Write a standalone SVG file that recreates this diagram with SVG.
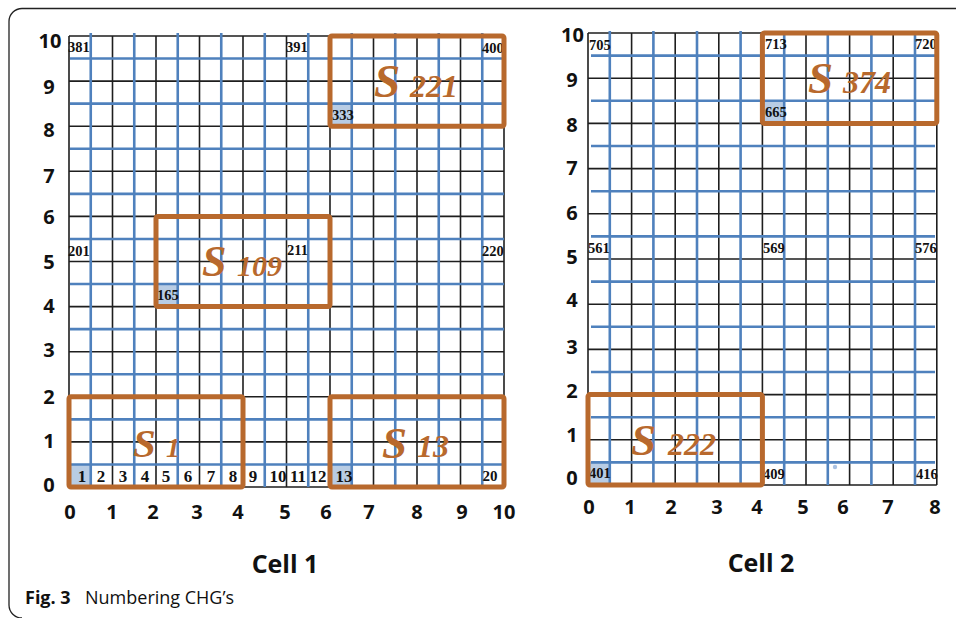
<svg xmlns="http://www.w3.org/2000/svg" width="956" height="618" viewBox="0 0 956 618">
<style>
.bk{stroke:#1e1e1e;stroke-width:1.6;fill:none}
.bl{stroke:#4f81bd;stroke-width:2.6;fill:none}
.hl{fill:#b8cce4}
.box{fill:none;stroke:#b8692d;stroke-width:5}
.num{font-family:"Liberation Serif",serif;font-weight:bold;fill:#111}
.n3{font-size:14.5px}
.n0{font-size:17px;text-anchor:middle}
.ax{font-family:"Open Sans","Liberation Sans",sans-serif;font-weight:bold;font-size:20px;fill:#111;text-anchor:middle}
.sb{font-family:"Liberation Serif",serif;font-weight:bold;font-style:italic;fill:#b8692d}
.cap{font-family:"Open Sans","Liberation Sans",sans-serif;fill:#111}
</style>
<rect width="956" height="618" fill="#fff"/>
<path d="M956,8.5 H22 A13,13 0 0 0 9,21.5 V605 A13,13 0 0 0 22,618" fill="none" stroke="#222" stroke-width="1.3"/>

<g id="cell1">
<rect class="hl" x="69" y="464.45" width="21.75" height="22.55"/>
<rect class="hl" x="330" y="464.45" width="21.75" height="22.55"/>
<rect class="hl" x="156" y="284.05" width="21.75" height="22.55"/>
<rect class="hl" x="330" y="103.65" width="21.75" height="22.55"/>
<path class="bk" d="M69,36V487M112.5,36V487M156,36V487M199.5,36V487M243,36V487M286.5,36V487M330,36V487M373.5,36V487M417,36V487M460.5,36V487M504,36V487
M69,36H504M69,81.1H504M69,126.2H504M69,171.3H504M69,216.4H504M69,261.5H504M69,306.6H504M69,351.7H504M69,396.8H504M69,441.9H504M69,487H504"/>
<path class="bl" d="M90.75,33V487M134.25,33V487M177.75,33V487M221.25,33V487M264.75,33V487M308.25,33V487M351.75,33V487M395.25,33V487M438.75,33V487M482.25,33V487
M70,58.55H504M70,103.65H504M70,148.75H504M70,193.85H504M70,238.95H504M70,284.05H504M70,329.15H504M70,374.25H504M70,419.35H504M70,464.45H504"/>
<g class="num n3">
<text x="68" y="52">381</text>
<text x="286" y="52">391</text>
<text x="482" y="53">400</text>
<text x="332" y="120">333</text>
<text x="68" y="256">201</text>
<text x="287" y="255">211</text>
<text x="482" y="256">220</text>
<text x="157" y="300">165</text>
</g>
<g class="num n0">
<text x="82" y="482">1</text>
<text x="101" y="482">2</text>
<text x="123" y="482">3</text>
<text x="145" y="482">4</text>
<text x="166" y="482">5</text>
<text x="188" y="482">6</text>
<text x="211" y="482">7</text>
<text x="233" y="482">8</text>
<text x="253" y="482">9</text>
<text x="278" y="482">10</text>
<text x="298" y="482">11</text>
<text x="318" y="482">12</text>
<text x="344" y="482">13</text>
<text x="490" y="481" style="font-size:15px">20</text>
</g>
<g class="ax">
<text x="50" y="48">10</text>
<text x="49" y="94">9</text>
<text x="49" y="137">8</text>
<text x="49" y="183">7</text>
<text x="49" y="224">6</text>
<text x="49" y="269">5</text>
<text x="49" y="313">4</text>
<text x="49" y="357">3</text>
<text x="49" y="404">2</text>
<text x="49" y="448">1</text>
<text x="49" y="492">0</text>
<text x="70" y="519">0</text>
<text x="112" y="519">1</text>
<text x="153" y="519">2</text>
<text x="197" y="519">3</text>
<text x="238" y="519">4</text>
<text x="285" y="519">5</text>
<text x="326" y="519">6</text>
<text x="369" y="519">7</text>
<text x="417" y="519">8</text>
<text x="462" y="519">9</text>
<text x="504" y="519">10</text>
</g>
<text class="ax" x="285" y="573" style="font-size:25px">Cell 1</text>
</g>

<g id="cell2">
<rect class="hl" x="588" y="462.4" width="21.8" height="22.6"/>
<rect class="hl" x="762.4" y="100.8" width="21.8" height="22.6"/>
<path class="bk" d="M588,33V485M631.6,33V485M675.2,33V485M718.8,33V485M762.4,33V485M806,33V485M849.6,33V485M893.2,33V485M936.8,33V485
M588,33H936.8M588,78.2H936.8M588,123.4H936.8M588,168.6H936.8M588,213.8H936.8M588,259H936.8M588,304.2H936.8M588,349.4H936.8M588,394.6H936.8M588,439.8H936.8M588,485H936.8"/>
<path class="bl" d="M609.8,31V485M653.4,31V485M697,31V485M740.6,31V485M784.2,31V485M827.8,31V485M871.4,31V485M915,31V485
M591,55.6H935M591,100.8H935M591,146H935M591,191.2H935M591,236.4H935M591,281.6H935M591,326.8H935M591,372H935M591,417.2H935M591,462.4H935"/>
<circle cx="835" cy="467" r="2.2" fill="#a9c1e2"/>
<g class="num n3">
<text x="589" y="50">705</text>
<text x="765" y="49">713</text>
<text x="915" y="49">720</text>
<text x="765" y="117">665</text>
<text x="588" y="253">561</text>
<text x="763" y="253">569</text>
<text x="915" y="253">576</text>
<text x="589" y="478">401</text>
<text x="763" y="479">409</text>
<text x="916" y="479">416</text>
</g>
<g class="ax">
<text x="572.5" y="42">10</text>
<text x="572" y="87">9</text>
<text x="572" y="132">8</text>
<text x="572" y="175">7</text>
<text x="572" y="220">6</text>
<text x="572" y="264">5</text>
<text x="572" y="307">4</text>
<text x="572" y="354">3</text>
<text x="572" y="398">2</text>
<text x="572" y="442">1</text>
<text x="572" y="485">0</text>
<text x="589" y="514">0</text>
<text x="630" y="514">1</text>
<text x="671" y="514">2</text>
<text x="717" y="514">3</text>
<text x="757" y="514">4</text>
<text x="803" y="514">5</text>
<text x="843" y="514">6</text>
<text x="888" y="514">7</text>
<text x="935" y="514">8</text>
</g>
<text class="ax" x="761" y="572" style="font-size:25px">Cell 2</text>
</g>

<g id="S1">
<rect class="box" x="69" y="396.8" width="174" height="90.2" rx="2"/>
<text class="sb"><tspan x="133" y="457" style="font-size:41px">S</tspan><tspan x="166" y="457" style="font-size:28px">1</tspan></text>
</g>
<g id="S13">
<rect class="box" x="330" y="396.8" width="174" height="90.2" rx="2"/>
<text class="sb"><tspan x="382" y="458" style="font-size:45px">S</tspan><tspan x="417" y="457" style="font-size:32px">13</tspan></text>
</g>
<g id="S109">
<rect class="box" x="156" y="216.4" width="174" height="90.2" rx="2"/>
<text class="sb"><tspan x="202" y="276" style="font-size:44px">S</tspan><tspan x="237" y="276" style="font-size:30px">109</tspan></text>
</g>
<g id="S221">
<rect class="box" x="330" y="36" width="174" height="90.2" rx="2"/>
<text class="sb"><tspan x="374" y="97" style="font-size:47px">S</tspan><tspan x="410" y="97" style="font-size:32px">221</tspan></text>
</g>
<g id="S222">
<rect class="box" x="588" y="394.6" width="174.4" height="90.4" rx="2"/>
<text class="sb"><tspan x="631" y="455" style="font-size:45px">S</tspan><tspan x="668" y="455" style="font-size:32px">222</tspan></text>
</g>
<g id="S374">
<rect class="box" x="762.4" y="33" width="174.4" height="90.4" rx="2"/>
<text class="sb"><tspan x="808" y="93" style="font-size:45px">S</tspan><tspan x="843" y="93" style="font-size:32px">374</tspan></text>
</g>

<g id="caption">
<text class="cap" x="25" y="604" style="font-size:18px;font-weight:bold">Fig. 3</text>
<text class="cap" x="85" y="604" style="font-size:18px">Numbering CHG’s</text>
</g>
</svg>
